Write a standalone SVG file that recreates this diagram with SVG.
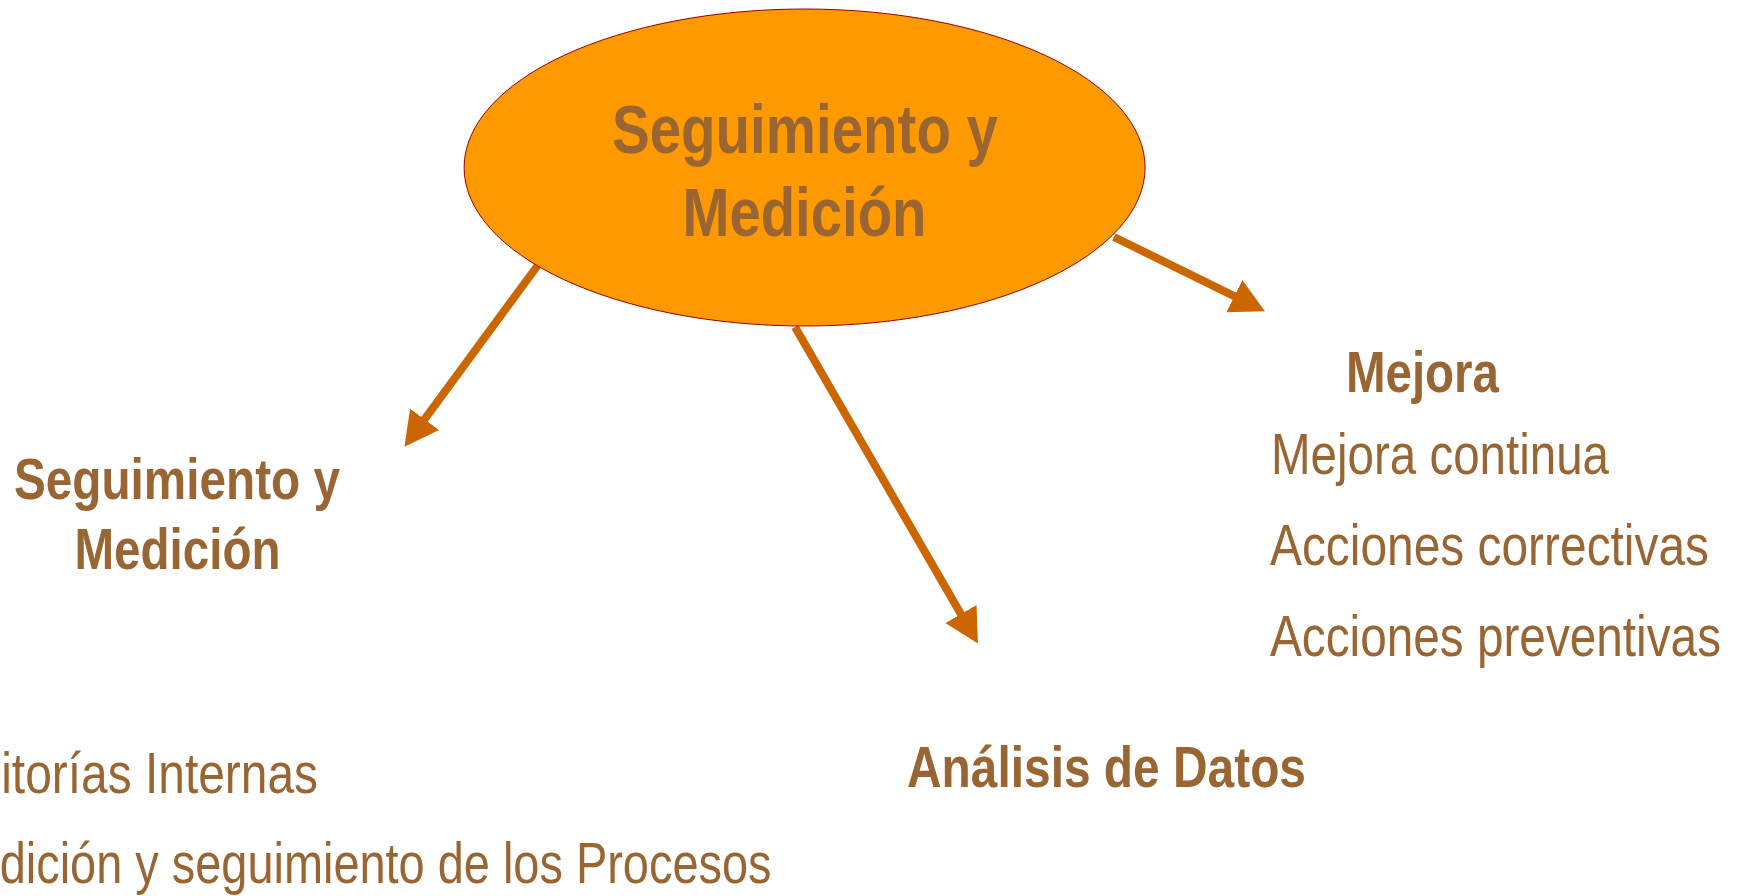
<svg xmlns="http://www.w3.org/2000/svg" width="1740" height="896" viewBox="0 0 1740 896">
  <style>
    .t { font-family: "Liberation Sans Narrow", "Liberation Sans", Arial, sans-serif; fill: #996633; }
    .b { font-weight: bold; }
    .big { font-size: 68px; }
    .mid { font-size: 57px; }
    .conn { stroke: #CC6600; stroke-width: 8; fill: none; }
  </style>
  <defs>
    <marker id="ah" markerUnits="userSpaceOnUse" markerWidth="36" markerHeight="38" viewBox="0 0 36 38" refX="2" refY="19" orient="auto">
      <path d="M0,1 L34,19 L0,37 Z" fill="#CC6600"/>
    </marker>
  </defs>
  <rect width="1740" height="896" fill="#FFFFFF"/>

  <g id="connectors">
    <line class="conn" x1="538" y1="265" x2="423.4" y2="420.9" marker-end="url(#ah)"/>
    <line class="conn" x1="795" y1="327" x2="961.9" y2="615.8" marker-end="url(#ah)"/>
    <line class="conn" x1="1114" y1="237" x2="1236.2" y2="297.1" marker-end="url(#ah)"/>
  </g>

  <g id="center">
    <ellipse cx="804.6" cy="167.5" rx="340.5" ry="158.5" fill="#FF9900" stroke="#990000" stroke-width="1"/>
    <text class="t b big" x="805" y="153.3" text-anchor="middle" textLength="386" lengthAdjust="spacingAndGlyphs">Seguimiento y</text>
    <text class="t b big" x="804.5" y="236" text-anchor="middle" textLength="244" lengthAdjust="spacingAndGlyphs">Medición</text>
  </g>

  <g id="seguimiento">
    <text class="t b mid" x="177" y="499.3" text-anchor="middle" textLength="326" lengthAdjust="spacingAndGlyphs">Seguimiento y</text>
    <text class="t b mid" x="177.5" y="569.3" text-anchor="middle" textLength="206" lengthAdjust="spacingAndGlyphs">Medición</text>
    <text class="t mid" x="-84" y="793" textLength="402" lengthAdjust="spacingAndGlyphs">Auditorías Internas</text>
    <text class="t mid" x="-65.5" y="883.3" textLength="837" lengthAdjust="spacingAndGlyphs">Medición y seguimiento de los Procesos</text>
  </g>

  <g id="analisis">
    <text class="t b mid" x="907" y="786.7" textLength="399" lengthAdjust="spacingAndGlyphs">Análisis de Datos</text>
  </g>

  <g id="mejora">
    <text class="t b mid" x="1346" y="392.3" textLength="153" lengthAdjust="spacingAndGlyphs">Mejora</text>
    <text class="t mid" x="1271" y="474.3" textLength="338" lengthAdjust="spacingAndGlyphs">Mejora continua</text>
    <text class="t mid" x="1270" y="565" textLength="439" lengthAdjust="spacingAndGlyphs">Acciones correctivas</text>
    <text class="t mid" x="1270" y="656" textLength="451" lengthAdjust="spacingAndGlyphs">Acciones preventivas</text>
  </g>
</svg>
